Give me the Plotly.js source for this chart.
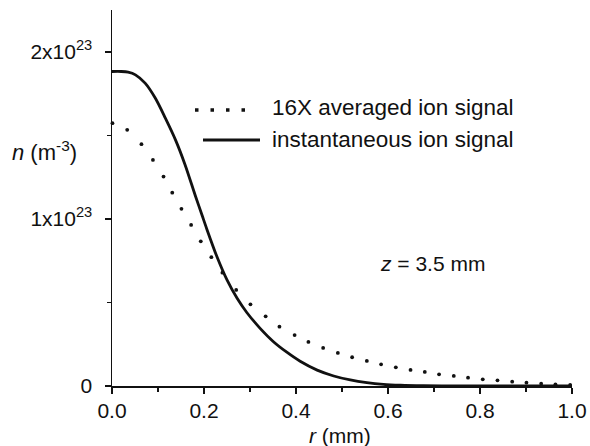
<!DOCTYPE html>
<html>
<head>
<meta charset="utf-8">
<script src="https://cdn.plot.ly/plotly-3.0.1.min.js"></script>
<style>html,body{margin:0;padding:0;background:#fff;}#chart{width:590px;height:446px;}</style>
</head>
<body>
<div id="chart"></div>
<script>
// r in mm, n in units of 1e23 m^-3
var rInst = [0, 0.02, 0.035, 0.051, 0.072, 0.094, 0.116, 0.138, 0.159, 0.181, 0.196, 0.206, 0.228, 0.25, 0.272, 0.293, 0.322, 0.351, 0.38, 0.409, 0.446, 0.482, 0.518, 0.554, 0.59, 0.627, 0.677, 0.75, 0.85, 1.0];
var nInst = [1.882, 1.882, 1.878, 1.862, 1.812, 1.723, 1.603, 1.473, 1.323, 1.14, 1.02, 0.94, 0.775, 0.635, 0.525, 0.44, 0.345, 0.265, 0.202, 0.148, 0.095, 0.060, 0.036, 0.020, 0.010, 0.005, 0.002, 0.0005, 0, 0];

var rAvg = [0.001, 0.033, 0.064, 0.089, 0.112, 0.131, 0.151, 0.172, 0.193, 0.216, 0.240, 0.270, 0.301, 0.334, 0.364, 0.397, 0.427, 0.459, 0.491, 0.522, 0.554, 0.585, 0.617, 0.649, 0.680, 0.711, 0.743, 0.774, 0.806, 0.838, 0.870, 0.901, 0.933, 0.964, 0.996];
var nAvg = [1.573, 1.533, 1.447, 1.353, 1.253, 1.157, 1.06, 0.964, 0.866, 0.771, 0.678, 0.575, 0.489, 0.417, 0.355, 0.305, 0.264, 0.228, 0.198, 0.172, 0.150, 0.130, 0.112, 0.096, 0.084, 0.070, 0.060, 0.050, 0.040, 0.034, 0.026, 0.020, 0.014, 0.010, 0.006];

var yTickVals = [0, 1, 2];
var yTickText = ['0', '1x10<sup>23</sup>', '2x10<sup>23</sup>'];
var xTickVals = [0, 0.2, 0.4, 0.6, 0.8, 1.0];
var xTickText = ['0.0', '0.2', '0.4', '0.6', '0.8', '1.0'];

var legendNames = ['16X averaged ion signal', 'instantaneous ion signal'];

var FONT = 'Liberation Sans, Arial, sans-serif';

var traces = [
  {x: rInst, y: nInst, mode: 'lines', line: {color: '#111', width: 2.8, shape: 'spline', smoothing: 0.8}, name: legendNames[1], showlegend: false, hoverinfo: 'none'},
  {x: rAvg, y: nAvg, mode: 'markers', marker: {color: '#111', size: 3.8}, name: legendNames[0], showlegend: false, hoverinfo: 'none', cliponaxis: false}
];

var layout = {
  width: 590, height: 446,
  margin: {l: 112, r: 18, t: 10, b: 60},
  paper_bgcolor: '#fff', plot_bgcolor: '#fff',
  font: {family: FONT, size: 21, color: '#111'},
  showlegend: false,
  xaxis: {
    range: [0, 1], showgrid: false, zeroline: false,
    showline: true, linecolor: '#111', linewidth: 1.5,
    ticks: 'outside', ticklen: 6, tickwidth: 1.5, tickcolor: '#111',
    tickvals: xTickVals, ticktext: xTickText, ticklabelstandoff: -1,
    tickfont: {family: FONT, size: 21, color: '#111'},
    minor: {dtick: 0.1, ticks: 'outside', ticklen: 4, tickwidth: 1.2, tickcolor: '#111', showgrid: false}
  },
  yaxis: {
    range: [0, 2.25], showgrid: false, zeroline: false,
    showline: true, linecolor: '#111', linewidth: 1.5,
    ticks: 'outside', ticklen: 6, tickwidth: 1.5, tickcolor: '#111',
    tickvals: yTickVals, ticktext: yTickText, ticklabelstandoff: 8,
    tickfont: {family: FONT, size: 21, color: '#111'},
    minor: {dtick: 0.5, ticks: 'outside', ticklen: 4, tickwidth: 1.2, tickcolor: '#111', showgrid: false}
  },
  shapes: [
    {type: 'line', xref: 'paper', yref: 'paper', x0: (195-112)/460, x1: (252-112)/460, y0: (386-110)/376, y1: (386-110)/376,
     line: {color: '#111', width: 3.5, dash: '3.5px,12px'}},
    {type: 'line', xref: 'paper', yref: 'paper', x0: (203-112)/460, x1: (260-112)/460, y0: (386-140)/376, y1: (386-140)/376,
     line: {color: '#111', width: 2.8}}
  ],
  annotations: [
    {xref: 'paper', yref: 'paper', x: (270-112)/460, y: (386-108)/376, xanchor: 'left', yanchor: 'middle', showarrow: false,
     text: legendNames[0], font: {family: FONT, size: 22.5, color: '#111'}},
    {xref: 'paper', yref: 'paper', x: (270-112)/460, y: (386-139)/376, xanchor: 'left', yanchor: 'middle', showarrow: false,
     text: legendNames[1], font: {family: FONT, size: 22.5, color: '#111'}},
    {xref: 'paper', yref: 'paper', x: (378-112)/460, y: (386-263)/376, xanchor: 'left', yanchor: 'middle', showarrow: false,
     text: '<i>z</i> = 3.5 mm', font: {family: FONT, size: 21, color: '#111'}},
    {xref: 'paper', yref: 'paper', x: (10-112)/460, y: (386-151)/376, xanchor: 'left', yanchor: 'middle', showarrow: false,
     text: '<i>n</i> (m<sup>-3</sup>)', font: {family: FONT, size: 22, color: '#111'}},
    {xref: 'paper', yref: 'paper', x: (340-112)/460, y: (386-436)/376, xanchor: 'center', yanchor: 'middle', showarrow: false,
     text: '<i>r</i> (mm)', font: {family: FONT, size: 21, color: '#111'}}
  ]
};

Plotly.newPlot('chart', traces, layout, {staticPlot: true, displayModeBar: false});
</script>
</body>
</html>
